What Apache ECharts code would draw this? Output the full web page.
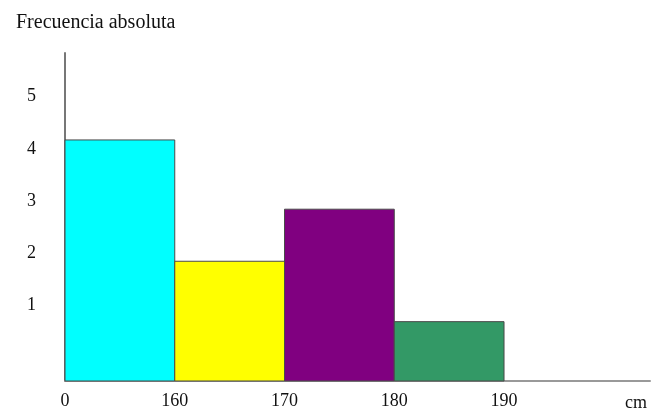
<!DOCTYPE html>
<html>
<head>
<meta charset="utf-8">
<script src="https://cdn.jsdelivr.net/npm/echarts@6/dist/echarts.min.js"></script>
<style>
html, body { margin: 0; padding: 0; background: #fff; }
#histo { width: 654px; height: 412px; }
</style>
</head>
<body>
<div id="histo"></div>
<script>
// histograma de alturas (cm)
var claseLimites = ['0', '160', '170', '180', '190'];   // etiquetas del eje x
var frecuencias = [4.17, 1.84, 2.84, 0.68];
var colores = ['#00ffff', '#ffff00', '#800080', '#339966'];
var yEtiquetas = [1, 2, 3, 4, 5];

(function() {
	var histo = echarts.init(document.getElementById('histo'));
	var yMin = -0.46, yMax = 5.84;

	var data = [];
	for (var i = 0; i < frecuencias.length; i++) {
		data.push([i, i + 1, frecuencias[i]]);
	}

	function renderItem(params, api) {
		var p0 = api.coord([api.value(0), api.value(2)]);
		var p1 = api.coord([api.value(1), yMin]);
		return {
			type : 'rect',
			shape : {
				x : p0[0],
				y : p0[1],
				width : p1[0] - p0[0],
				height : p1[1] - p0[1]
			},
			style : {
				fill : colores[params.dataIndex],
				stroke : '#4a4a4a',
				lineWidth : 1
			}
		};
	}

	var fuente = 'Liberation Serif';

	option = {
		animation : false,
		title : {
			text : 'Frecuencia absoluta',
			left : 11,
			top : 8,
			textStyle : {
				fontFamily : fuente,
				fontSize : 20,
				fontWeight : 'normal',
				color : '#111'
			}
		},
		grid : {
			left : 65,
			right : 4,
			top : 53,
			bottom : 31
		},
		xAxis : {
			type : 'value',
			min : 0,
			max : 5.33,
			name : 'cm',
			nameLocation : 'end',
			nameGap : -25,
			nameTextStyle : {
				fontFamily : fuente,
				fontSize : 18,
				color : '#111',
				verticalAlign : 'top',
				padding : [ 13, 0, 0, 0 ]
			},
			axisLine : {
				onZero : false,
				lineStyle : { color : '#999', width : 2 }
			},
			axisTick : { show : false },
			splitLine : { show : false },
			axisLabel : {
				customValues : [0, 1, 2, 3, 4],
				formatter : function(v) {
					return claseLimites[Math.round(v)];
				},
				margin : 11,
				fontFamily : fuente,
				fontSize : 18,
				color : '#111'
			}
		},
		yAxis : {
			type : 'value',
			min : yMin,
			max : yMax,
			axisLine : {
				show : true,
				onZero : false,
				lineStyle : { color : '#777', width : 2 }
			},
			axisTick : { show : false },
			splitLine : { show : false },
			axisLabel : {
				customValues : yEtiquetas,
				margin : 29,
				fontFamily : fuente,
				fontSize : 18,
				color : '#111'
			}
		},
		series : [ {
			type : 'custom',
			renderItem : renderItem,
			encode : {
				x : [0, 1],
				y : 2
			},
			data : data
		} ]
	};

	histo.setOption(option);
})();
</script>
</body>
</html>
